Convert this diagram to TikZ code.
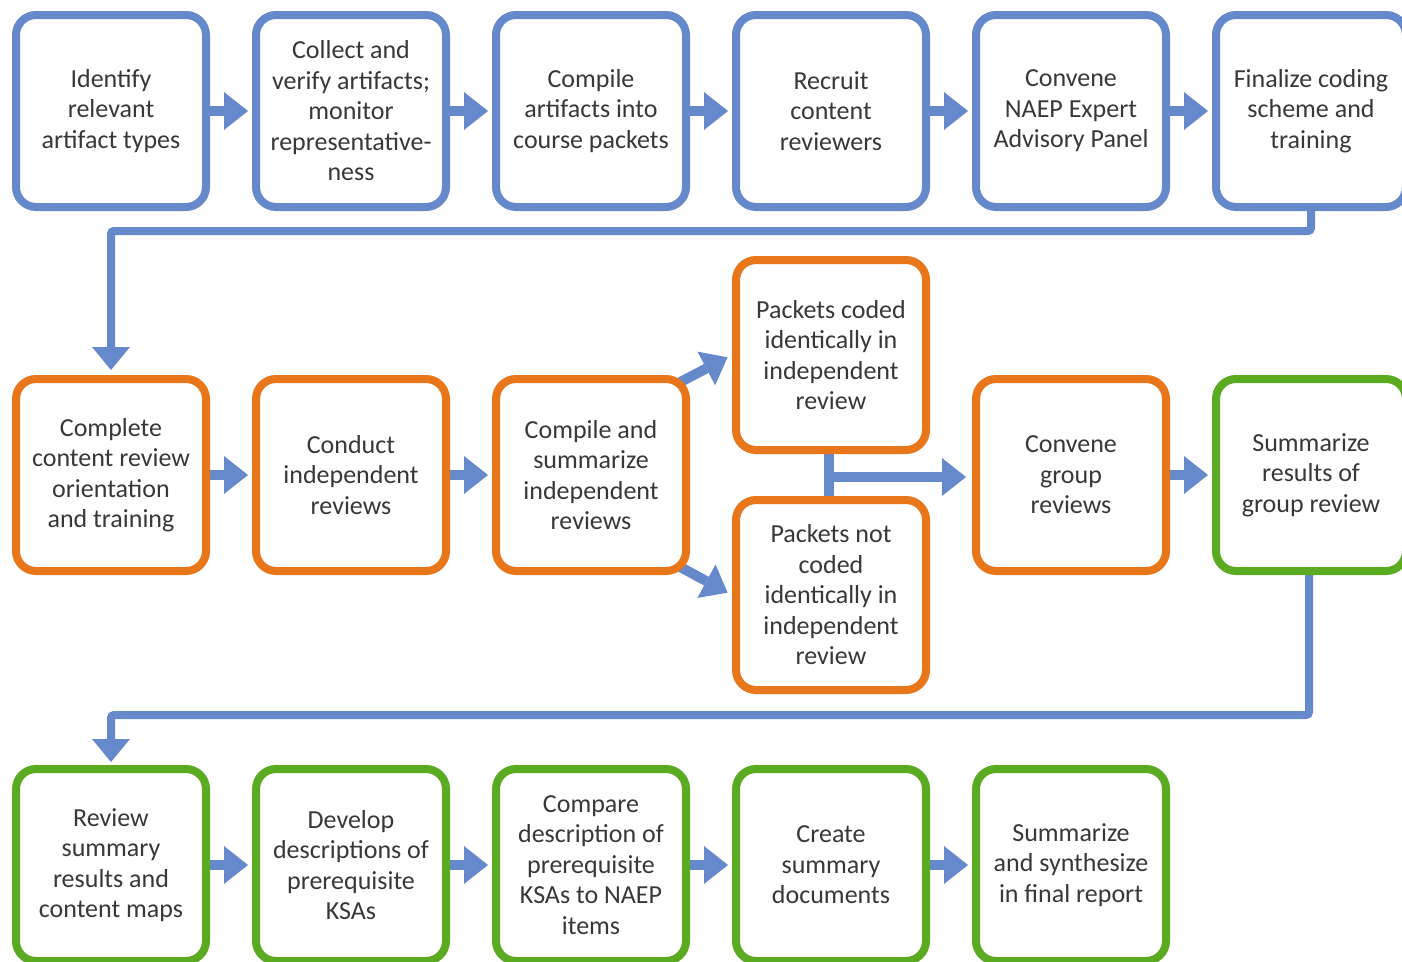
\documentclass[tikz,border=0pt]{standalone}
\usepackage{fontspec}
\setmainfont{Carlito}
\usetikzlibrary{arrows.meta,calc}
\pgfdeclarelayer{back}
\pgfdeclarelayer{bg}
\pgfsetlayers{back,bg,main}
\definecolor{cblue}{HTML}{6689CC}
\definecolor{corange}{HTML}{E8761A}
\definecolor{cgreen}{HTML}{5AAA22}
\definecolor{txt}{HTML}{383838}
\begin{document}
\begin{tikzpicture}[x=1pt,y=-1pt,
  box/.style={draw, line width=8pt, rounded corners=20pt, fill=white,
    minimum width=190pt, minimum height=192pt, align=center, text=txt,
    font=\fontsize{26}{30.5}\selectfont, inner sep=0pt},
  bbox/.style={box, draw=cblue},
  obox/.style={box, draw=corange},
  gbox/.style={box, draw=cgreen},
  flow/.style={draw=cblue, line width=10pt,
    -{Triangle[length=24pt,width=38pt,line width=0pt]}, shorten >=4pt},
  link/.style={draw=cblue, line width=8pt, rounded corners=3pt,
    -{Triangle[length=23pt,width=38pt,line width=0pt]}}
]
\useasboundingbox (0,0) rectangle (1402,961);
\clip (0,0) rectangle (1402,961);
\begin{pgfonlayer}{back}
\fill[white] (0,0) rectangle (1402,961);
\end{pgfonlayer}

% Row 1
\node[bbox] (a1) at (111,111) {Identify\\relevant\\artifact types};
\node[bbox] (a2) at (351,111) {Collect and\\verify artifacts;\\monitor\\representative-\\ness};
\node[bbox] (a3) at (591,111) {Compile\\artifacts into\\course packets};
\node[bbox] (a4) at (831,111) {Recruit\\content\\reviewers};
\node[bbox] (a5) at (1071,111) {Convene\\NAEP Expert\\Advisory Panel};
\node[bbox] (a6) at (1311,111) {Finalize coding\\scheme and\\training};

% Row 2
\node[obox] (b1) at (111,475) {Complete\\content review\\orientation\\and training};
\node[obox] (b2) at (351,475) {Conduct\\independent\\reviews};
\node[obox] (b3) at (591,475) {Compile and\\summarize\\independent\\reviews};
\node[obox, minimum height=190pt] (pt) at (831,355) {Packets coded\\identically in\\independent\\review};
\node[obox, minimum height=190pt] (pb) at (831,595) {Packets not\\coded\\identically in\\independent\\review};
\node[obox] (b5) at (1071,475) {Convene\\group\\reviews};
\node[gbox] (b6) at (1311,475) {Summarize\\results of\\group review};

% Row 3
\node[gbox] (c1) at (111,865) {Review\\summary\\results and\\content maps};
\node[gbox] (c2) at (351,865) {Develop\\descriptions of\\prerequisite\\KSAs};
\node[gbox] (c3) at (591,865) {Compare\\description of\\prerequisite\\KSAs to NAEP\\items};
\node[gbox] (c4) at (831,865) {Create\\summary\\documents};
\node[gbox] (c5) at (1071,865) {Summarize\\and synthesize\\in final report};

\begin{pgfonlayer}{bg}
\foreach \u/\v in {a1/a2,a2/a3,a3/a4,a4/a5,a5/a6,b1/b2,b2/b3,b5/b6,c1/c2,c2/c3,c3/c4,c4/c5}
  \draw[flow] (\u.east) -- (\v.west);
\draw[flow, shorten >=5pt] ($(b3.north east)+(-21,13)$) -- (pt.west);
\draw[flow, shorten >=5pt] ($(b3.south east)+(-19,-13)$) -- (pb.west);
\draw[draw=cblue, line width=10pt] ($(pt.south)+(-2,0)$) -- ($(pb.north)+(-2,0)$);
\coordinate (m) at ($(pt.south)!0.5!(pb.north)+(-2,2)$);
\draw[flow, shorten >=6pt] (m) -- (m -| b5.west);
\draw[link, shorten >=5pt] (a6.south) -- ++(0,20) -| (b1.north);
\draw[link, shorten >=3pt] ($(b6.south)+(-2,0)$) -- ++(0,140) -| (c1.north);
\end{pgfonlayer}
\end{tikzpicture}
\end{document}
